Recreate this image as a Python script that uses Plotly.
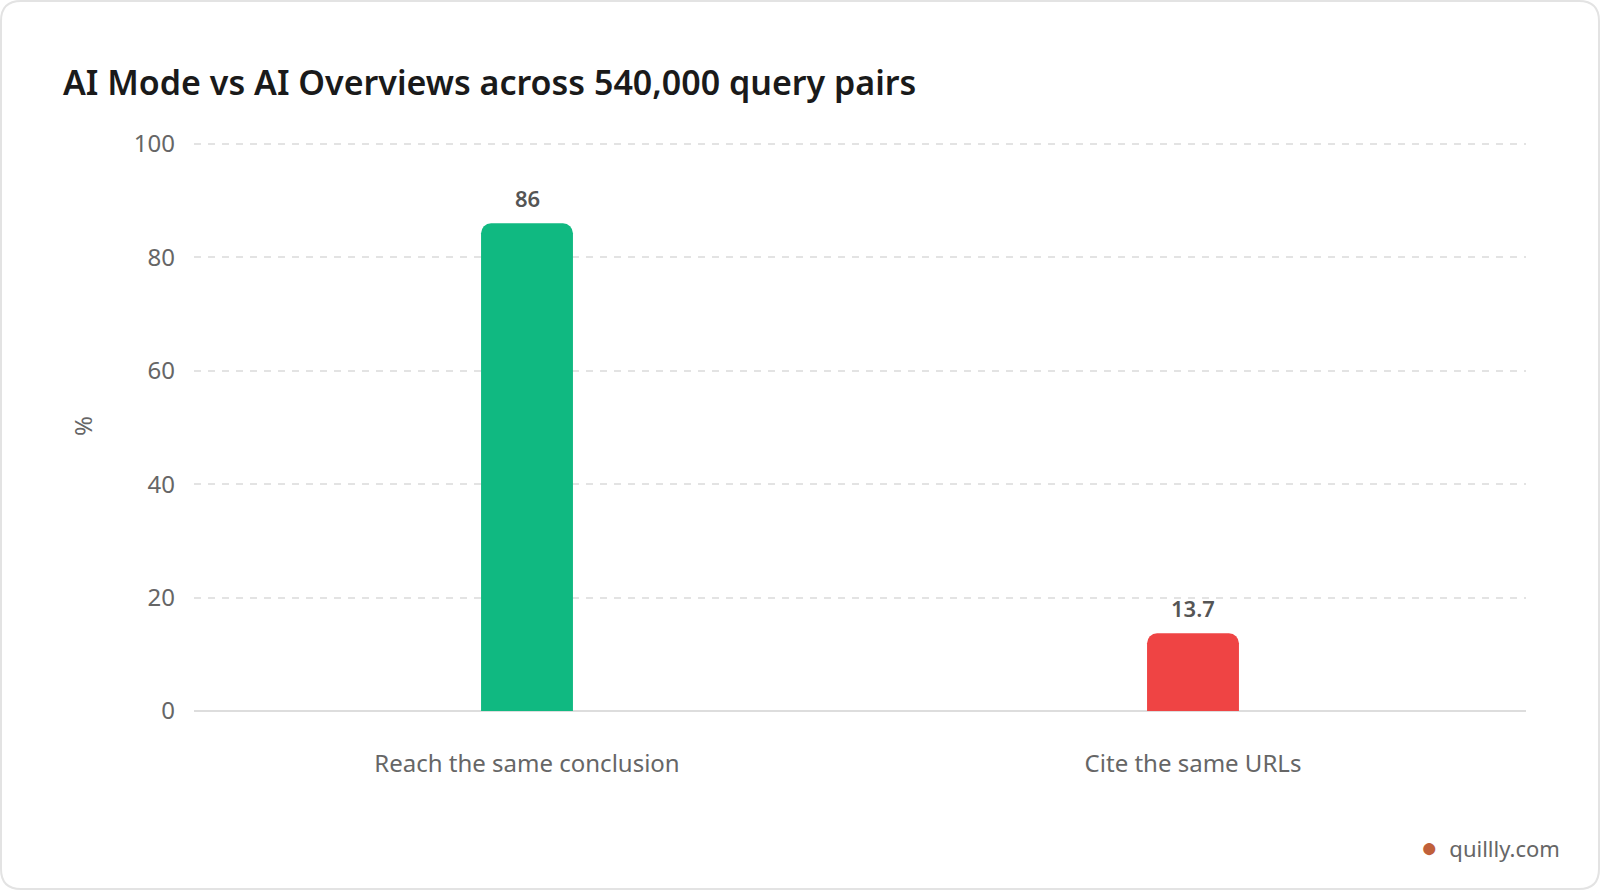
import plotly.graph_objects as go

categories = ["Reach the same conclusion", "Cite the same URLs"]
values = [86, 13.7]
value_labels = ["86", "13.7"]
bar_colors = ["#10b981", "#ef4444"]
y_ticks = [0, 20, 40, 60, 80, 100]

W, H = 1600, 890
ml, mr, mt, mb = 194, 74, 141, 179
pw, ph = W - ml - mr, H - mt - mb


def px_x(x):
    return (x - ml) / pw


def px_y(y):
    return (H - mb - y) / ph


# rounded card border, built in pixel terms then mapped to paper coords
r = 20
x0, y0, x1, y1 = 1, 1, W - 1, H - 1
pts = [
    ("M", x0 + r, y0), ("L", x1 - r, y0), ("Q", x1, y0, x1, y0 + r),
    ("L", x1, y1 - r), ("Q", x1, y1, x1 - r, y1), ("L", x0 + r, y1),
    ("Q", x0, y1, x0, y1 - r), ("L", x0, y0 + r), ("Q", x0, y0, x0 + r, y0),
]
path = ""
for p in pts:
    cmd, coords = p[0], p[1:]
    s = []
    for i in range(0, len(coords), 2):
        s.append(f"{px_x(coords[i]):.5f},{px_y(coords[i+1]):.5f}")
    path += cmd + " ".join(s) + " "
path += "Z"

fig = go.Figure()
fig.add_trace(go.Bar(
    x=categories, y=values,
    marker=dict(color=bar_colors, line=dict(width=0)),
    hoverinfo="skip",
))

labels = [dict(x=c, y=v, text=t, xref="x", yref="y", showarrow=False,
               yanchor="bottom", yshift=8,
               font=dict(family="Noto Sans", size=22, color="#555555", weight=600))
          for c, v, t in zip(categories, values, value_labels)]

labels.append(dict(
    text="<span style='color:#c0603a;font-size:28px'>●</span>  quillly.com",
    xref="paper", yref="paper", x=px_x(1562), y=px_y(846),
    xanchor="right", yanchor="middle", showarrow=False,
    font=dict(family="Noto Sans", size=22, color="#666666"),
))

fig.update_layout(
    width=W, height=H,
    margin=dict(l=ml, r=mr, t=mt, b=mb),
    paper_bgcolor="white", plot_bgcolor="white",
    bargap=0.862, barcornerradius=10,
    showlegend=False,
    font=dict(family="Noto Sans", color="#666666"),
    title=dict(
        text="AI Mode vs AI Overviews across 540,000 query pairs",
        xref="container", yref="container",
        x=63 / W, xanchor="left", y=1 - 83 / H, yanchor="middle",
        font=dict(family="Noto Sans", size=34, color="#1a1a1a", weight=600),
    ),
    shapes=[dict(type="path", xref="paper", yref="paper", path=path,
                 line=dict(color="#e3e3e3", width=2), fillcolor="rgba(0,0,0,0)",
                 layer="below")],
    annotations=labels,
)

fig.update_xaxes(
    showgrid=False, showline=False, zeroline=False, ticks="",
    tickfont=dict(size=24, color="#666666"), ticklabelstandoff=36,
)
fig.update_yaxes(
    range=[0, 100.5], tickvals=y_ticks,
    showgrid=True, gridcolor="#e3e3e3", griddash="7px,7px", gridwidth=1.5,
    zeroline=True, zerolinecolor="#dddddd", zerolinewidth=2,
    showline=False, ticks="",
    tickfont=dict(size=24, color="#666666"), ticklabelstandoff=18,
    title=dict(text="%", font=dict(size=24, color="#666666"), standoff=34),
)

fig.write_html("out.html", config={"displayModeBar": False},
               post_script="document.body.style.margin='0';")
